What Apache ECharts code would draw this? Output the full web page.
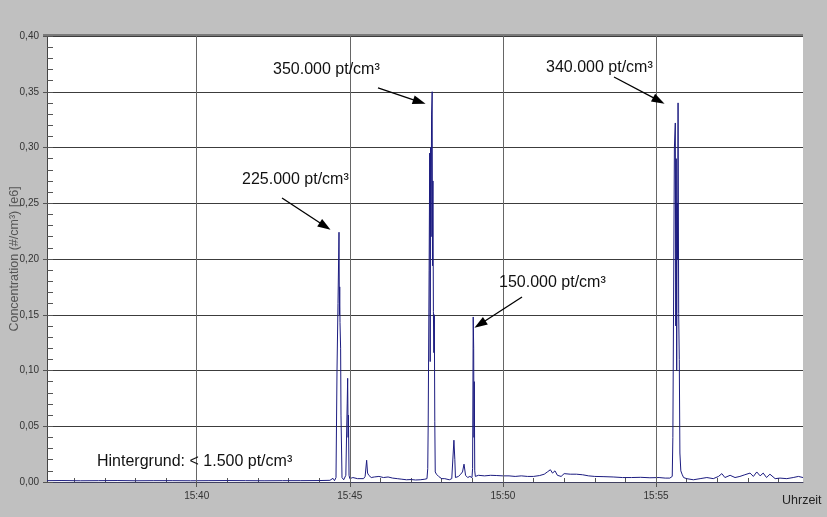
<!DOCTYPE html>
<html>
<head>
<meta charset="utf-8">
<script src="https://cdn.jsdelivr.net/npm/echarts@6/dist/echarts.min.js"></script>
<style>
html,body{margin:0;padding:0;background:#c0c0c0;}
#chart{width:827px;height:517px;}
</style>
</head>
<body>
<div id="chart"></div>
<script>
// time in minutes after 15:00
const minutes = [
  35.11, 35.6, 36.2, 36.8, 37.4, 38.0, 38.6, 39.2, 39.8, 40.4, 41.0, 41.6, 42.2, 42.8, 43.4, 44.0, 44.35, 44.45, 44.50,
  44.549, 44.582, 44.614, 44.647, 44.66, 44.67, 44.68, 44.70, 44.712, 44.745,
  44.80, 44.87, 44.90, 44.915, 44.93, 44.945, 44.955, 44.975, 45.00,
  45.10, 45.25, 45.45, 45.50, 45.55, 45.58, 45.62, 45.70,
  45.80, 45.95, 46.10, 46.25, 46.40, 46.55, 46.70, 46.85, 47.00, 47.15, 47.30, 47.45, 47.50,
  47.52, 47.545, 47.56, 47.59, 47.61, 47.625, 47.64, 47.655, 47.67, 47.69, 47.70, 47.715, 47.73, 47.745, 47.76, 47.775, 47.79,
  47.83, 47.90, 48.00, 48.10, 48.25, 48.33,
  48.38, 48.40, 48.43, 48.45, 48.55, 48.62, 48.68, 48.73, 48.78, 48.85, 48.92,
  48.99, 49.01, 49.03, 49.045, 49.055, 49.065, 49.08, 49.10,
  49.2, 49.4, 49.6, 49.8, 50.0, 50.2, 50.4, 50.6, 50.8, 51.0, 51.2, 51.35, 51.45, 51.55, 51.62, 51.7, 51.78, 51.9,
  52.0, 52.2, 52.4, 52.6, 52.8, 53.0, 53.3, 53.6, 53.9, 54.2, 54.5, 54.8, 55.1, 55.3, 55.45,
  55.50, 55.53, 55.55, 55.60, 55.63, 55.645, 55.66, 55.675, 55.69, 55.705, 55.72, 55.74, 55.76, 55.78, 55.81, 55.85, 55.90,
  56.00, 56.22, 56.44, 56.66, 56.87, 57.04, 57.15, 57.25, 57.42, 57.58, 57.74, 57.90, 58.07, 58.18, 58.29, 58.40, 58.50, 58.61, 58.72, 58.89, 59.05, 59.27, 59.48, 59.65, 59.80
];
// concentration in 1e6 particles per cm3
const conc = [
  0.0012, 0.0013, 0.0011, 0.0012, 0.0013, 0.0011, 0.0012, 0.0012, 0.0011, 0.0012, 0.0013, 0.0012, 0.0011, 0.0012, 0.0012, 0.0013, 0.0015, 0.0033, 0.0012,
  0.004, 0.10, 0.16, 0.224, 0.15, 0.175, 0.143, 0.12, 0.06, 0.004,
  0.002, 0.006, 0.05, 0.07, 0.093, 0.04, 0.06, 0.006, 0.003,
  0.004, 0.003, 0.003, 0.005, 0.0195, 0.008, 0.006, 0.004,
  0.0045, 0.005, 0.004, 0.0045, 0.0035, 0.003, 0.0025, 0.002, 0.0022, 0.0018, 0.002, 0.0025, 0.004,
  0.003, 0.012, 0.052, 0.19, 0.295, 0.108, 0.30, 0.22, 0.33, 0.35, 0.194, 0.27, 0.153, 0.116, 0.15, 0.054, 0.009,
  0.007, 0.005, 0.003, 0.003, 0.002, 0.003,
  0.003, 0.0375, 0.02, 0.004, 0.005, 0.007, 0.009, 0.016, 0.006, 0.004, 0.005,
  0.004, 0.012, 0.148, 0.12, 0.04, 0.09, 0.01, 0.005,
  0.006, 0.0055, 0.006, 0.0058, 0.0055, 0.0055, 0.005, 0.0055, 0.005, 0.005, 0.0058, 0.007, 0.009, 0.011, 0.008, 0.010, 0.006, 0.005,
  0.0075, 0.007, 0.007, 0.0065, 0.0055, 0.005, 0.0048, 0.0045, 0.004, 0.004, 0.0042, 0.0038, 0.004, 0.0035, 0.0035,
  0.0035, 0.005, 0.04, 0.30, 0.322, 0.14, 0.29, 0.10, 0.25, 0.20, 0.34, 0.151, 0.11, 0.026, 0.01, 0.007, 0.004,
  0.003, 0.002, 0.003, 0.004, 0.003, 0.005, 0.0075, 0.004, 0.006, 0.004, 0.005, 0.0065, 0.008, 0.005, 0.009, 0.0055, 0.008, 0.004, 0.007, 0.003, 0.0035, 0.003, 0.004, 0.005, 0.004
];
const xMin = 35.111, xMax = 59.80;
const xLabelMinutes = [40, 45, 50, 55];
const xMinorMinutes = [36,37,38,39,40,41,42,43,44,45,46,47,48,49,50,51,52,53,54,55,56,57,58,59];

// arrows: [start, end] in data coordinates
const arrows = [
  [[45.921, 0.3534], [47.273, 0.3410]],
  [[53.628, 0.3632], [55.091, 0.3420]],
  [[42.786, 0.2547], [44.193, 0.2294]],
  [[50.624, 0.1659], [49.249, 0.1415]]
];
const notes = [
  {text: '350.000 pt/cm³', x: 273, y: 70},
  {text: '340.000 pt/cm³', x: 546, y: 68},
  {text: '225.000 pt/cm³', x: 242, y: 180},
  {text: '150.000 pt/cm³', x: 499, y: 283},
  {text: 'Hintergrund: < 1.500 pt/cm³', x: 97, y: 462}
];

const FONT = '"Liberation Sans", Arial, sans-serif';
const data = minutes.map((m, i) => [m, conc[i]]);
const chart = echarts.init(document.getElementById('chart'), null, {renderer: 'canvas'});
chart.setOption({
  animation: false,
  backgroundColor: '#c0c0c0',
  grid: {left: 47, top: 36, right: 24, bottom: 35, show: true, backgroundColor: '#ffffff', borderWidth: 0,
         containLabel: false, outerBoundsMode: 'none'},
  xAxis: [{
    type: 'value', min: xMin, max: xMax, position: 'bottom',
    name: 'Uhrzeit', nameLocation: 'end', nameGap: -21, nameMoveOverlap: false,
    nameTextStyle: {fontFamily: FONT, fontSize: 12.5, color: '#222', verticalAlign: 'top', padding: [12, 0, 0, 0]},
    axisLine: {show: true, lineStyle: {color: '#404060', width: 1}},
    axisTick: {show: true, customValues: xLabelMinutes, inside: false, length: 5, lineStyle: {color: '#555'}},
    axisLabel: {customValues: xLabelMinutes, formatter: v => '15:' + Math.round(v), fontFamily: FONT, fontSize: 10, color: '#333', margin: 9},
    splitLine: {show: false}
  }, {
    type: 'value', min: xMin, max: xMax, position: 'bottom',
    axisLine: {show: false},
    axisTick: {show: true, customValues: xMinorMinutes, inside: true, length: 4, lineStyle: {color: '#555'}},
    axisLabel: {show: false},
    splitLine: {show: false}
  }],
  yAxis: [{
    type: 'value', min: 0, max: 0.4, interval: 0.05, position: 'left',
    name: 'Concentration (#/cm³) [e6]', nameLocation: 'middle', nameGap: 26, nameRotate: 90, nameMoveOverlap: false,
    nameTextStyle: {fontFamily: FONT, fontSize: 12.5, color: '#555'},
    axisLine: {show: true, lineStyle: {color: '#444', width: 1}},
    axisTick: {show: true, inside: false, length: 4, lineStyle: {color: '#555'}},
    axisLabel: {formatter: v => v.toFixed(2).replace('.', ','), fontFamily: FONT, fontSize: 10, color: '#333', margin: 8},
    splitLine: {show: true, lineStyle: {color: '#3c3c3c', width: 1}}
  }, {
    type: 'value', min: 0, max: 0.4, interval: 0.01, position: 'left', offset: 0,
    axisLine: {show: false},
    axisTick: {show: true, inside: true, length: 6, lineStyle: {color: '#555'}},
    axisLabel: {show: false},
    splitLine: {show: false}
  }],
  series: [{
    name: 'grid', type: 'line', data: [], z: 1, silent: true,
    markLine: {
      silent: true, symbol: ['none', 'none'], label: {show: false}, animation: false,
      lineStyle: {color: '#666', width: 1, type: 'solid'},
      data: xLabelMinutes.map(v => ({xAxis: v}))
    }
  }, {
    name: 'Concentration', type: 'line', data: data, z: 3,
    showSymbol: false, symbol: 'none', smooth: false,
    lineStyle: {color: '#1c1c80', width: 1},
    markLine: {
      silent: true, symbol: ['none', 'triangle'], symbolSize: [9, 13], label: {show: false}, animation: false,
      lineStyle: {color: '#000', width: 1.3, type: 'solid'},
      data: arrows.map(a => [{coord: a[0]}, {coord: a[1]}])
    }
  }],
  graphic: [
    {type: 'line', shape: {x1: 43, y1: 35, x2: 803, y2: 35}, style: {stroke: '#7a7a7a', lineWidth: 2}, z: 10}
  ].concat(notes.map(n => ({
    type: 'text', x: n.x, y: n.y, z: 20,
    style: {text: n.text, fontFamily: FONT, fontSize: 16, fill: '#111', verticalAlign: 'middle', align: 'left'}
  })))
});
</script>
</body>
</html>
